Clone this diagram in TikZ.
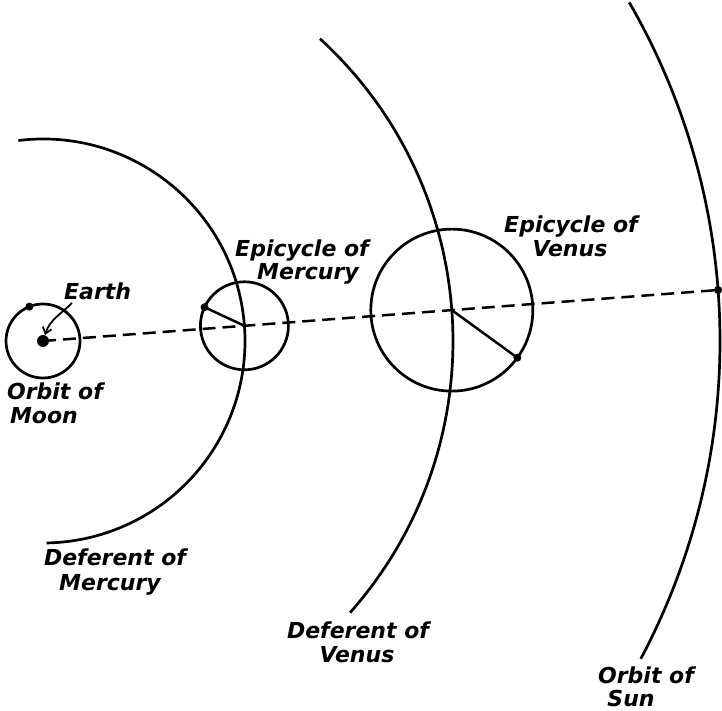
\documentclass[tikz,border=0pt]{standalone}
\usepackage{fontspec}
\setmainfont{DejaVu Sans}
\usetikzlibrary{arrows.meta}
\begin{document}
\begin{tikzpicture}[x=1pt,y=1pt,
  orbit/.style={line width=2.7pt},
  ring/.style={draw, circle, line width=2.7pt, inner sep=0pt, minimum size=#1},
  blob/.style={circle, fill=black, inner sep=0pt, minimum size=#1},
  radius line/.style={line width=2.5pt},
  sightline/.style={line width=2.5pt, dash pattern=on 13pt off 7pt},
  lbl/.style={font=\fontsize{22}{25}\selectfont\bfseries\itshape, inner sep=0pt, anchor=base},
  arr/.style={line width=1.8pt, -{Straight Barb[length=6pt,width=9pt,line width=1.8pt]}},
]
\useasboundingbox (0,0) rectangle (722,710);
% centres
\coordinate (E) at (43,369);
\coordinate (M) at ([shift={(4.32:202)}]E);
\coordinate (V) at ([shift={(4.32:410)}]E);
\coordinate (S) at ([shift={(4.32:677)}]E);

% deferents and orbit of sun
\draw[orbit] ([shift={(97:202)}]E) arc[start angle=97, end angle=-89, radius=202];
\draw[orbit] ([shift={(47.5:410)}]E) arc[start angle=47.5, end angle=-41.5, radius=410];
\draw[orbit] ([shift={(30:677)}]E) arc[start angle=30, end angle=-28, radius=677];

% circles
\node[ring=74] (moonorb) at (E) {};
\node[ring=88] (epiM) at (M) {};
\node[ring=162] (epiV) at (V) {};

% bodies
\node[blob=12] (earth) at (E) {};
\node[blob=8] (moon) at ([shift={(111.5:37)}]E) {};
\node[blob=8] (mercury) at ([shift={(155:44)}]M) {};
\node[blob=8] (venus) at ([shift={(-36:81)}]V) {};
\node[blob=8] (sun) at (S) {};

% radius lines
\draw[radius line] (M) -- (mercury.center);
\draw[radius line] (V) -- (venus.center);

% line of sight
\draw[sightline] (earth.center) -- (sun.center);

% labels
\node[lbl, anchor=base west] (lEarth) at (64,410) {Earth};
\draw[arr] ([shift={(8,-3)}]lEarth.base west) to[out=225, in=72] (earth);

\node[lbl] (lMoonA) at (55,310) {Orbit of};
\node[lbl] (lMoonB) at (44,287) {Moon};

\node[lbl] (lEpiMA) at (302,453) {Epicycle of};
\node[lbl] (lEpiMB) at (308,430) {Mercury};

\node[lbl] (lEpiVA) at (571,477) {Epicycle of};
\node[lbl] (lEpiVB) at (570,453) {Venus};

\node[lbl] (lDefMA) at (115,145) {Deferent of};
\node[lbl] (lDefMB) at (110,120) {Mercury};

\node[lbl] (lDefVA) at (358,72) {Deferent of};
\node[lbl] (lDefVB) at (357,48) {Venus};

\node[lbl] (lSunA) at (646,27) {Orbit of};
\node[lbl] (lSunB) at (631,4) {Sun};
\end{tikzpicture}
\end{document}
